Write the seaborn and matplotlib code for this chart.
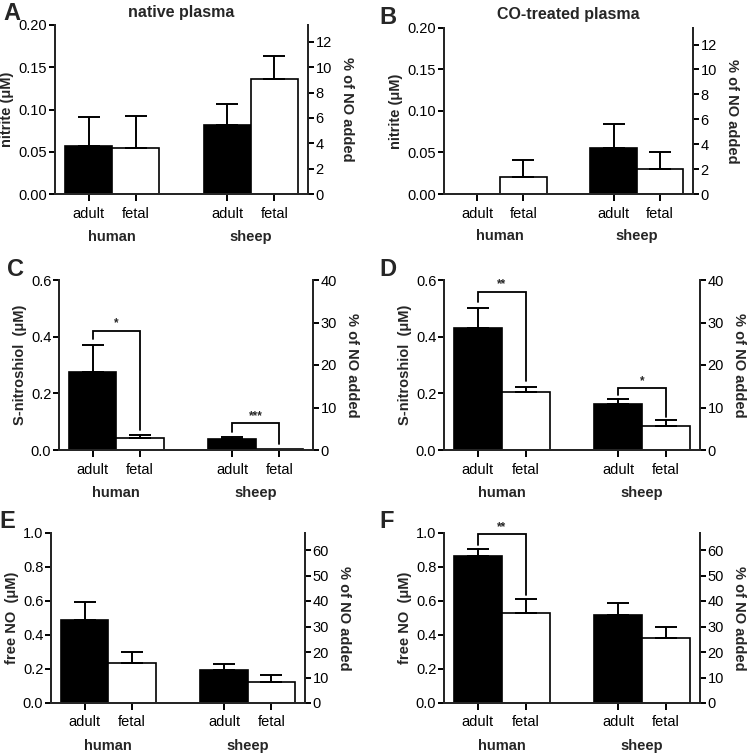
import matplotlib
matplotlib.use("Agg")
import matplotlib.pyplot as plt
import numpy as np
import pandas as pd
import seaborn as sns

sns.set_theme(style="ticks")
plt.rcParams["font.family"] = ["Liberation Sans", "DejaVu Sans"]

# ---------------------------------------------------------------------------
# Data (order: human adult, human fetal, sheep adult, sheep fetal)
# ---------------------------------------------------------------------------
species = ["human", "sheep"]
ages = ["adult", "fetal"]

nitrite_native = [0.057, 0.054, 0.082, 0.136]
nitrite_native_sem = [0.034, 0.038, 0.025, 0.027]
nitrite_co = [0.0, 0.021, 0.055, 0.030]
nitrite_co_sem = [0.0, 0.020, 0.029, 0.021]

snitroso_native = [0.277, 0.044, 0.038, 0.004]
snitroso_native_sem = [0.095, 0.010, 0.007, 0.0]
snitroso_co = [0.432, 0.204, 0.161, 0.085]
snitroso_co_sem = [0.068, 0.020, 0.018, 0.021]

freeno_native = [0.486, 0.235, 0.192, 0.122]
freeno_native_sem = [0.108, 0.067, 0.035, 0.041]
freeno_co = [0.863, 0.531, 0.518, 0.384]
freeno_co_sem = [0.043, 0.081, 0.072, 0.063]

NO_ADDED = 1.5  # uM, for the right-hand "% of NO added" axis

# significance brackets: (species, top, left leg end, right leg end, label)
brackets_c = [("human", 0.421, 0.392, 0.071, "*"), ("sheep", 0.094, 0.062, 0.020, "***")]
brackets_d = [("human", 0.558, 0.521, 0.245, "**"), ("sheep", 0.218, 0.194, 0.118, "*")]
brackets_f = [("human", 0.992, 0.929, 0.637, "**")]

panels = [
    # letter, title, values, sem, ylabel, ymax, yticks, fmt, rticks, brackets, rect(px)
    ("A", "native plasma", nitrite_native, nitrite_native_sem, "nitrite (\u03bcM)",
     0.20, np.arange(0, 0.201, 0.05), "{:.2f}", np.arange(0, 13, 2), [], (55, 25, 308, 194)),
    ("B", "CO-treated plasma", nitrite_co, nitrite_co_sem, "nitrite (\u03bcM)",
     0.20, np.arange(0, 0.201, 0.05), "{:.2f}", np.arange(0, 13, 2), [], (444, 28, 693, 194)),
    ("C", None, snitroso_native, snitroso_native_sem, "S-nitroshiol  (\u03bcM)",
     0.6, np.arange(0, 0.61, 0.2), "{:.1f}", np.arange(0, 41, 10), brackets_c, (59, 280, 313, 450)),
    ("D", None, snitroso_co, snitroso_co_sem, "S-nitroshiol  (\u03bcM)",
     0.6, np.arange(0, 0.61, 0.2), "{:.1f}", np.arange(0, 41, 10), brackets_d, (444, 280, 700, 450)),
    ("E", None, freeno_native, freeno_native_sem, "free NO  (\u03bcM)",
     1.0, np.arange(0, 1.01, 0.2), "{:.1f}", np.arange(0, 61, 10), [], (51, 533, 305, 703)),
    ("F", None, freeno_co, freeno_co_sem, "free NO  (\u03bcM)",
     1.0, np.arange(0, 1.01, 0.2), "{:.1f}", np.arange(0, 61, 10), brackets_f, (444, 533, 700, 703)),
]

W, H = 750, 755
fig = plt.figure(figsize=(W / 100, H / 100), dpi=100)
LW = 1.4

for letter, title, vals, sems, ylabel, ymax, yticks, fmt, rticks, brackets, rect in panels:
    x0, y0, x1, y1 = rect
    ax = fig.add_axes([x0 / W, 1 - y1 / H, (x1 - x0) / W, (y1 - y0) / H])

    df = pd.DataFrame({
        "species": np.repeat(species, 2),
        "age": ages * 2,
        "value": vals,
        "sem": sems,
    })
    sns.barplot(data=df, x="species", y="value", hue="age", order=species, hue_order=ages,
                palette={"adult": "black", "fetal": "white"}, edgecolor="black",
                linewidth=1.2, width=0.68, errorbar=None, legend=False, ax=ax)

    # bar centers by (species, age)
    centers = {}
    for age, cont in zip(ages, ax.containers):
        for sp, bar in zip(species, cont):
            centers[(sp, age)] = bar.get_x() + bar.get_width() / 2
            half = bar.get_width() / 2

    # one-sided error bars (SEM)
    for _, row in df.iterrows():
        if row["sem"] > 0:
            cx = centers[(row["species"], row["age"])]
            ax.errorbar(cx, row["value"], yerr=[[0], [row["sem"]]], fmt="none",
                        ecolor="black", elinewidth=LW, capsize=8, capthick=LW, zorder=1)

    # significance brackets
    for sp, top, lbot, rbot, label in brackets:
        xa, xf = centers[(sp, "adult")], centers[(sp, "fetal")]
        ax.plot([xa, xa, xf, xf], [lbot, top, top, rbot], color="black", lw=1.3,
                solid_joinstyle="miter", zorder=3)
        ax.text((xa + xf) / 2, top + ymax * 0.008, label, ha="center", va="bottom",
                fontsize=8.5, fontweight="bold")

    # x axis: ticks at bars, age labels, species labels below
    order = [(sp, a) for sp in species for a in ages]
    xt = [centers[k] for k in order]
    ax.set_xticks(xt)
    ax.set_xticklabels([a for _, a in order], fontsize=10.5)
    ax.set_xlabel("")
    lo = centers[("human", "adult")] - half * 1.42
    hi = centers[("sheep", "fetal")] + half * 1.42
    ax.set_xlim(lo, hi)
    for sp in species:
        gx = (centers[(sp, "adult")] + centers[(sp, "fetal")]) / 2
        ax.text(gx, -0.255, sp, transform=ax.get_xaxis_transform(), ha="center",
                va="center", fontsize=10.5, fontweight="bold")

    # left y axis
    ax.set_ylim(0, ymax)
    ax.set_yticks(yticks)
    ax.set_yticklabels([fmt.format(t) for t in yticks], fontsize=10.5)
    ax.set_ylabel(ylabel, fontsize=10.5, fontweight="bold", labelpad=3)

    # right y axis in % of NO added
    ax2 = ax.twinx()
    ax2.set_ylim(0, ymax / NO_ADDED * 100)
    ax2.set_yticks(rticks)
    ax2.set_yticklabels([str(t) for t in rticks], fontsize=10.5)
    ax2.set_ylabel("% of NO added", fontsize=10.5, fontweight="bold", rotation=270,
                   labelpad=16)

    for a in (ax, ax2):
        a.spines["top"].set_visible(False)
        for s in ("left", "right", "bottom"):
            a.spines[s].set_linewidth(LW)
        a.tick_params(width=LW, length=4, pad=1.5, colors="black")
    ax.spines["right"].set_visible(True)
    ax.tick_params(axis="x", length=5, pad=4)

    # panel letter and title
    fig.text((x0 - 52) / W if x0 < 300 else (x0 - 65) / W, 1 - (y0 - 11) / H, letter,
             fontsize=17, fontweight="bold", ha="left", va="center")
    if title:
        fig.text((x0 + x1) / 2 / W, 1 - (y0 - 13) / H, title, fontsize=11.5,
                 fontweight="bold", ha="center", va="center")

fig.savefig("out.png", dpi=100)
